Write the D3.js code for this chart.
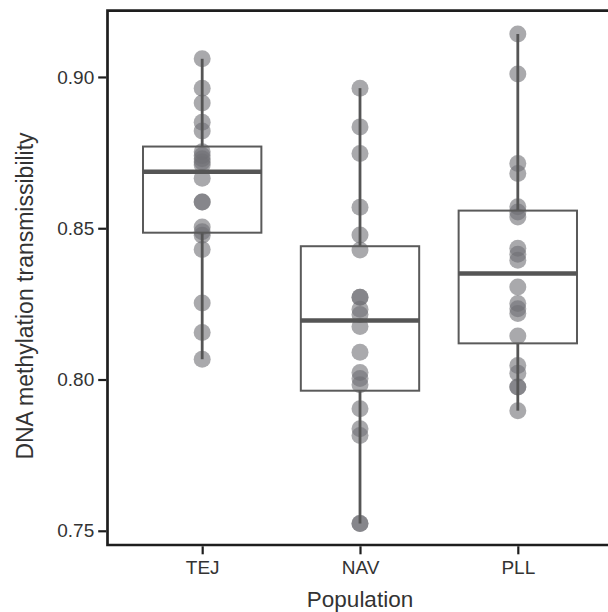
<!DOCTYPE html>
<html>
<head>
<meta charset="utf-8">
<script src="https://cdn.jsdelivr.net/npm/d3@7"></script>
<style>
  body { margin: 0; background: #fff; overflow: hidden; }
  svg { display: block; }
  text { font-family: "Liberation Sans", Arial, sans-serif; }
</style>
</head>
<body>
<div id="chart"></div>
<script>
// global variables
var width = 608,
    height = 612;

// data
var populations = ['TEJ', 'NAV', 'PLL'];
var tejValues = [0.9060, 0.8963, 0.8914, 0.8850, 0.8821, 0.8753, 0.8740, 0.8730, 0.8719, 0.8709,
                 0.8665, 0.8587, 0.8587, 0.8504, 0.8488, 0.8477, 0.8430, 0.8253, 0.8155, 0.8067];
var navValues = [0.8963, 0.8835, 0.8747, 0.8569, 0.8478, 0.8428, 0.8272, 0.8272, 0.8232, 0.8215,
                 0.8175, 0.8090, 0.8023, 0.8003, 0.7983, 0.7903, 0.7837, 0.7815, 0.7524, 0.7524];
var pllValues = [0.9142, 0.9010, 0.8714, 0.8681, 0.8571, 0.8554, 0.8537, 0.8434, 0.8414, 0.8394,
                 0.8306, 0.8251, 0.8234, 0.8218, 0.8144, 0.8046, 0.8021, 0.7975, 0.7975, 0.7897];
var yTicks = [0.75, 0.80, 0.85, 0.90];
var xTitle = 'Population';
var yTitle = 'DNA methylation transmissibility';

var groups = [
    {'pop': populations[0], 'values': tejValues},
    {'pop': populations[1], 'values': navValues},
    {'pop': populations[2], 'values': pllValues}
];

// panel edges (window.top is read-only, so no plain "top")
var pLeft = 107.5, pRight = 612.5, pTop = 10.7, pBottom = 545;

var svg = d3.select('#chart').append('svg')
    .attr('width', width)
    .attr('height', height);

svg.append('rect')
    .attr('width', width)
    .attr('height', height)
    .style('fill', '#ffffff');

var x = d3.scalePoint()
    .domain(populations)
    .range([pLeft, pRight])
    .padding(0.6);

var y = d3.scaleLinear()
    .domain([0.7453, 0.9219])
    .range([pBottom, pTop]);

var boxWidth = x.step() * 0.75;

// box statistics, ggplot style
groups.forEach(function(g){
    var s = g.values.slice().sort(d3.ascending);
    g.q1 = d3.quantile(s, 0.25);
    g.med = d3.quantile(s, 0.5);
    g.q3 = d3.quantile(s, 0.75);
    var iqr = g.q3 - g.q1;
    g.lo = d3.min(s.filter(function(v){ return v >= g.q1 - 1.5 * iqr; }));
    g.hi = d3.max(s.filter(function(v){ return v <= g.q3 + 1.5 * iqr; }));
});

// points
var pts = [];
groups.forEach(function(g){
    g.values.forEach(function(v){ pts.push({'pop': g.pop, 'v': v}); });
});

svg.selectAll('.pt')
    .data(pts)
  .enter().append('circle')
    .attr('class', 'pt')
    .attr('cx', function(d){ return x(d.pop); })
    .attr('cy', function(d){ return y(d.v); })
    .attr('r', 8.5)
    .style('fill', '#707075')
    .style('fill-opacity', 0.6);

// boxplots
var box = svg.selectAll('.box')
    .data(groups)
  .enter().append('g')
    .attr('class', 'box');

box.append('line')
    .attr('x1', function(d){ return x(d.pop); })
    .attr('x2', function(d){ return x(d.pop); })
    .attr('y1', function(d){ return y(d.hi); })
    .attr('y2', function(d){ return y(d.q3); })
    .style('stroke', '#555555')
    .style('stroke-width', 2.8);

box.append('line')
    .attr('x1', function(d){ return x(d.pop); })
    .attr('x2', function(d){ return x(d.pop); })
    .attr('y1', function(d){ return y(d.q1); })
    .attr('y2', function(d){ return y(d.lo); })
    .style('stroke', '#555555')
    .style('stroke-width', 2.8);

box.append('rect')
    .attr('x', function(d){ return x(d.pop) - boxWidth / 2; })
    .attr('y', function(d){ return y(d.q3); })
    .attr('width', boxWidth)
    .attr('height', function(d){ return y(d.q1) - y(d.q3); })
    .style('fill', 'none')
    .style('stroke', '#5a5a5a')
    .style('stroke-width', 2);

box.append('line')
    .attr('x1', function(d){ return x(d.pop) - boxWidth / 2; })
    .attr('x2', function(d){ return x(d.pop) + boxWidth / 2; })
    .attr('y1', function(d){ return y(d.med); })
    .attr('y2', function(d){ return y(d.med); })
    .style('stroke', '#555555')
    .style('stroke-width', 4.5);

// frame: top, left, bottom (right side is outside the picture)
svg.append('path')
    .attr('d', 'M' + width + ',' + pTop + 'H' + pLeft + 'V' + pBottom + 'H' + width)
    .style('fill', 'none')
    .style('stroke', '#1e1e1e')
    .style('stroke-width', 2.7);

// axes
var yAxis = svg.append('g')
    .attr('transform', 'translate(' + (pLeft - 1.3) + ',0)')
    .call(d3.axisLeft(y).tickValues(yTicks).tickFormat(d3.format('.2f')).tickSize(8).tickPadding(4));

var xAxis = svg.append('g')
    .attr('transform', 'translate(0,' + (pBottom + 1.3) + ')')
    .call(d3.axisBottom(x).tickSize(8).tickPadding(6));

[yAxis, xAxis].forEach(function(a){
    a.select('.domain').remove();
    a.selectAll('.tick line').style('stroke', '#1e1e1e').style('stroke-width', 2.2);
    a.selectAll('.tick text')
        .style('font-size', '19px')
        .style('fill', '#333333')
        .style('font-family', '"Liberation Sans", Arial, sans-serif');
});

// axis titles
svg.append('text')
    .attr('x', (pLeft + pRight) / 2)
    .attr('y', 607)
    .attr('text-anchor', 'middle')
    .style('font-size', '22.5px')
    .style('fill', '#333333')
    .text(xTitle);

svg.append('text')
    .attr('transform', 'translate(33,296) rotate(-90)')
    .attr('text-anchor', 'middle')
    .style('font-size', '23px')
    .style('fill', '#333333')
    .text(yTitle);
</script>
</body>
</html>
